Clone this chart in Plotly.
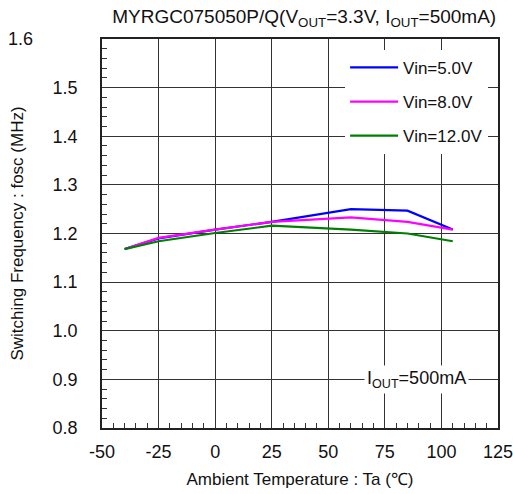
import plotly.graph_objects as go

temps = [-40, -25, 0, 25, 60, 85, 105]
vin5 = [1.168, 1.190, 1.208, 1.224, 1.250, 1.247, 1.208]
vin8 = [1.168, 1.191, 1.208, 1.224, 1.233, 1.224, 1.208]
vin12 = [1.168, 1.184, 1.201, 1.216, 1.208, 1.200, 1.184]
series_names = ["Vin=5.0V", "Vin=8.0V", "Vin=12.0V"]
colors = ["#0000FF", "#FF00FF", "#008000"]
x_ticks = [-50, -25, 0, 25, 50, 75, 100, 125]
y_ticks = [0.8, 0.9, 1.0, 1.1, 1.2, 1.3, 1.4, 1.5]

FONT = "Liberation Sans, Arial, sans-serif"
TXT = "#111"
fig = go.Figure()
for name, vals, c in zip(series_names, [vin5, vin8, vin12], colors):
    fig.add_trace(go.Scatter(x=temps, y=vals, mode="lines", name=name,
                             legendgroup=name,
                             line=dict(color=c, width=2.2)))

axcommon = dict(showline=True, linecolor="#222", linewidth=1.5, mirror=True,
                showgrid=True, gridcolor="#333", gridwidth=1, automargin=False,
                ticks="inside", ticklen=5, tickcolor="#333", zeroline=False,
                ticklabeloverflow="allow",
                tickfont=dict(family=FONT, size=18, color=TXT))
fig.update_xaxes(range=[-50, 125], tickvals=x_ticks, ticktext=[str(v) for v in x_ticks],
                 minor=dict(dtick=5, ticks="inside", ticklen=5, tickcolor="#333", showgrid=False),
                 ticklabelstandoff=7,
                 title=dict(text="Ambient Temperature : Ta (℃)", standoff=12,
                            font=dict(family=FONT, size=17, color=TXT)),
                 **axcommon)
fig.update_yaxes(range=[0.8, 1.6], tickvals=y_ticks, ticktext=[f"{v:.1f}" for v in y_ticks],
                 minor=dict(dtick=0.02, tick0=0.8, ticks="inside", ticklen=5, tickcolor="#333", showgrid=False),
                 ticklabelstandoff=19,
                 title=dict(text="Switching Frequency : fosc (MHz)", standoff=25,
                            font=dict(family=FONT, size=17, color=TXT)),
                 **axcommon)

fig.add_annotation(x=-0.205, y=1.6, xref="paper", yref="y", text="1.6", showarrow=False,
                   font=dict(family=FONT, size=18, color=TXT), xanchor="center", yanchor="middle")
fig.add_annotation(x=89, y=0.9, xref="x", yref="y", text="I<sub>OUT</sub>=500mA", showarrow=False,
                   bgcolor="white", font=dict(family=FONT, size=18, color=TXT),
                   xanchor="center", yanchor="middle", borderpad=2)

fig.update_layout(
    width=513, height=494,
    margin=dict(l=102, r=15, t=39, b=66),
    paper_bgcolor="white", plot_bgcolor="white",
    title=dict(text="MYRGC075050P/Q(V<sub>OUT</sub>=3.3V, I<sub>OUT</sub>=500mA)",
               x=0.593, xanchor="center", y=0.966, yanchor="middle",
               font=dict(family=FONT, size=19, color=TXT)),
    showlegend=True,
    legend=dict(x=0.975, xanchor="right", y=0.972, yanchor="top",
                bgcolor="white", borderwidth=0, tracegroupgap=9,
                font=dict(family=FONT, size=17, color=TXT),
                itemwidth=48),
)
fig.write_html("out.html", config={"displayModeBar": False},
               post_script="document.body.style.margin='0';document.body.style.overflow='hidden';")
